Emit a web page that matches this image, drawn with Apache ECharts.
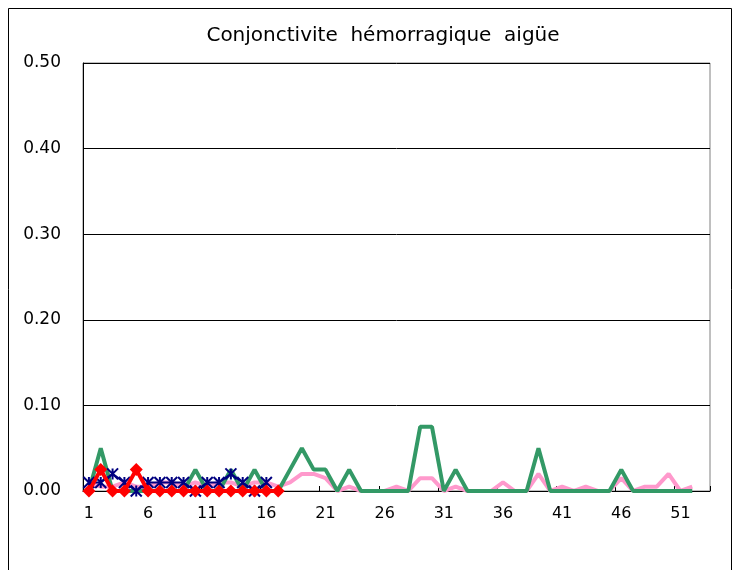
<!DOCTYPE html>
<html>
<head>
<meta charset="utf-8">
<script src="https://cdn.jsdelivr.net/npm/echarts@6/dist/echarts.min.js"></script>
<style>
  html, body { margin: 0; padding: 0; background: #fff; }
  #chart { width: 741px; height: 570px; }
</style>
</head>
<body>
<div id="chart"></div>
<script>
// semaines 1..53
var weeks = [];
for (var w = 1; w <= 53; w++) weeks.push(String(w));

// courbe rose (semaines 1-52)
var pinkData = [0.01, 0.005, 0.005, 0.01, 0.005, 0.005, 0.01, 0.01, 0.005, 0.01,
  0.005, 0.01, 0.01, 0.005, 0.01, 0.01, 0.005, 0.01, 0.02, 0.02,
  0.015, 0, 0.005, 0, 0, 0, 0.005, 0, 0.015, 0.015,
  0, 0.005, 0, 0, 0, 0.01, 0, 0, 0.02, 0,
  0.005, 0, 0.005, 0, 0, 0.015, 0, 0.005, 0.005, 0.02,
  0, 0.005];
// courbe verte (semaines 1-52)
var greenData = [0, 0.05, 0, 0, 0, 0, 0, 0, 0, 0.025,
  0, 0, 0.025, 0, 0.025, 0, 0, 0.025, 0.05, 0.025,
  0.025, 0, 0.025, 0, 0, 0, 0, 0, 0.075, 0.075,
  0, 0.025, 0, 0, 0, 0, 0, 0, 0.05, 0,
  0, 0, 0, 0, 0, 0.025, 0, 0, 0, 0,
  0, 0];
// asterisques bleus (semaines 1-16)
var navyData = [0.01, 0.01, 0.02, 0.01, 0, 0.01, 0.01, 0.01, 0.01, 0,
  0.01, 0.01, 0.02, 0.01, 0, 0.01];
// losanges rouges (semaines 1-17)
var redData = [0, 0.025, 0, 0, 0.025, 0, 0, 0, 0, 0,
  0, 0, 0, 0, 0, 0, 0];

var yTicks = [0, 0.1, 0.2, 0.3, 0.4, 0.5];

var font = 'DejaVu Sans';
var chart = echarts.init(document.getElementById('chart'));

var option = {
  backgroundColor: '#fff',
  animation: false,
  title: {
    text: 'Conjonctivite  hémorragique  aigüe',
    left: 378,
    textAlign: 'center',
    top: 21,
    textStyle: { fontFamily: font, fontSize: 20, fontWeight: 'normal', color: '#000' }
  },
  graphic: [
    {
      type: 'rect',
      shape: { x: 8.5, y: 8.5, width: 723, height: 600 },
      style: { fill: 'none', stroke: '#000', lineWidth: 1 },
      silent: true
    }
  ],
  grid: {
    left: 83,
    right: 31,
    top: 63,
    bottom: 79,
    show: true,
    borderColor: '#808080',
    borderWidth: 1
  },
  xAxis: {
    type: 'category',
    data: weeks,
    boundaryGap: true,
    axisLine: { lineStyle: { color: '#000', width: 1 } },
    axisTick: { show: true, inside: true, interval: 4, length: 5, lineStyle: { color: '#000' } },
    axisLabel: { interval: 4, fontFamily: font, fontSize: 16, color: '#000', margin: 15 },
    splitLine: { show: false }
  },
  yAxis: {
    type: 'value',
    min: yTicks[0],
    max: yTicks[yTicks.length - 1],
    interval: 0.1,
    axisLine: { show: true, lineStyle: { color: '#000', width: 1 } },
    axisTick: { show: false },
    axisLabel: {
      fontFamily: font, fontSize: 17, color: '#000', margin: 22,
      formatter: function (v) { return v.toFixed(2); }
    },
    splitLine: { lineStyle: { color: '#000', width: 1 } }
  },
  series: [
    {
      name: 'rose',
      type: 'line',
      data: pinkData,
      symbol: 'none',
      lineStyle: { color: '#ff99cc', width: 4 },
      z: 1
    },
    {
      name: 'vert',
      type: 'line',
      data: greenData,
      symbol: 'none',
      lineStyle: { color: '#339966', width: 4 },
      z: 2
    },
    {
      name: 'bleu',
      type: 'line',
      data: navyData,
      showSymbol: true,
      showAllSymbol: true,
      symbol: 'path://M0,0L10,10M10,0L0,10M5,0L5,10',
      symbolSize: 11,
      itemStyle: { color: 'none', borderColor: '#000080', borderWidth: 2 },
      lineStyle: { color: '#000080', width: 2 },
      z: 3
    },
    {
      name: 'rouge',
      type: 'line',
      data: redData,
      showSymbol: true,
      showAllSymbol: true,
      symbol: 'diamond',
      symbolSize: 13,
      itemStyle: { color: '#ff0000' },
      lineStyle: { color: '#ff0000', width: 4 },
      z: 4
    }
  ]
};

chart.setOption(option);
</script>
</body>
</html>
